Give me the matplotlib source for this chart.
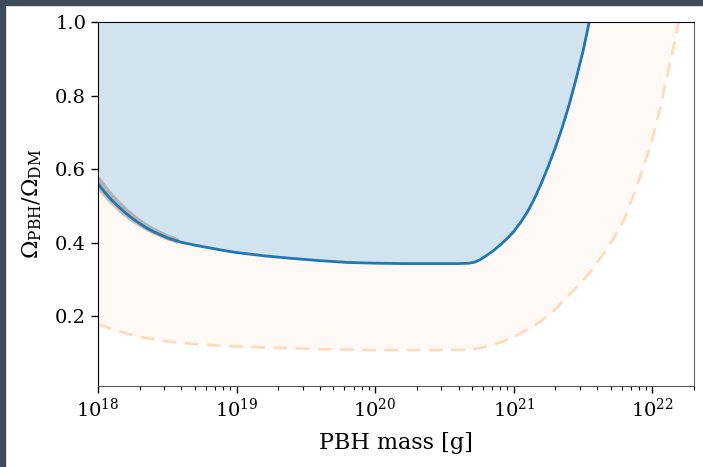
import numpy as np
import matplotlib
matplotlib.use("Agg")
import matplotlib.pyplot as plt
from matplotlib.patches import Rectangle

plt.rcParams['font.family'] = ['DejaVu Serif']
plt.rcParams['mathtext.fontset'] = 'dejavuserif'

# log10 of PBH mass [g] and constraint values
logm_blue = [18.0, 18.05, 18.1, 18.15, 18.2, 18.25, 18.3, 18.35, 18.4, 18.5, 18.6,
             18.7, 18.8, 18.9, 19.0, 19.2, 19.4, 19.6, 19.8, 20.0, 20.2, 20.4,
             20.6, 20.68, 20.72, 20.76, 20.80, 20.85, 20.90, 20.95, 21.00, 21.05,
             21.10, 21.15, 21.20, 21.25, 21.30, 21.35, 21.40, 21.45, 21.50, 21.545]
blue = [0.56, 0.536, 0.515, 0.497, 0.48, 0.465, 0.452, 0.44, 0.43, 0.413, 0.401,
        0.393, 0.386, 0.379, 0.373, 0.364, 0.357, 0.351, 0.346, 0.344, 0.343, 0.343,
        0.343, 0.344, 0.347, 0.354, 0.364, 0.377, 0.393, 0.41, 0.43, 0.455,
        0.484, 0.52, 0.562, 0.608, 0.658, 0.713, 0.775, 0.845, 0.92, 1.0]

logm_grey = [18.0, 18.05, 18.1, 18.15, 18.2, 18.25, 18.3, 18.35, 18.4, 18.5, 18.58]
grey = [0.574, 0.548, 0.525, 0.505, 0.487, 0.471, 0.457, 0.444, 0.433, 0.415, 0.404]
tan = [0.552, 0.529, 0.509, 0.491, 0.475, 0.461, 0.449, 0.438, 0.428, 0.412, 0.403]

logm_dash = [18.0, 18.1, 18.22, 18.35, 18.46, 18.6, 18.7, 18.9, 19.18, 19.5, 19.9,
             20.3, 20.6, 20.66, 20.72, 20.78, 20.84, 20.9, 20.96, 21.05, 21.15,
             21.26, 21.33, 21.4, 21.5, 21.57, 21.643, 21.72, 21.8, 21.884, 21.98,
             22.02, 22.06, 22.1, 22.15, 22.19]
dash = [0.178, 0.165, 0.151, 0.14, 0.133, 0.127, 0.124, 0.119, 0.115, 0.111, 0.108,
        0.108, 0.108, 0.1085, 0.111, 0.115, 0.121, 0.128, 0.137, 0.153, 0.174,
        0.204, 0.23, 0.258, 0.296, 0.329, 0.367, 0.41, 0.465, 0.548, 0.655,
        0.71, 0.77, 0.84, 0.925, 1.0]

m_blue = 10 ** np.array(logm_blue)
m_grey = 10 ** np.array(logm_grey)
m_dash = 10 ** np.array(logm_dash)

fig = plt.figure(figsize=(7.03, 4.67), dpi=100)
fig.patch.set_facecolor('white')
ax = fig.add_axes([98/703, 1-386/467, (694-98)/703, (386-22)/467])

# peach band from dashed line up
ax.fill_between(m_dash, dash, 1.0, color='C1', alpha=0.04, lw=0)
ax.plot(m_dash, dash, color='C1', alpha=0.25, lw=2, ls=(0, (5, 3)))
# excluded region above blue curve
ax.fill_between(m_blue, blue, 1.0, color='white', lw=0)
ax.fill_between(m_blue, blue, 1.0, color='C0', alpha=0.2, lw=0)
ax.plot(m_grey, grey, color='#a9a9a9', lw=4, alpha=0.8, solid_capstyle='butt')
ax.plot(m_grey, tan, color='#c8b29c', lw=3, alpha=0.8, solid_capstyle='butt')
ax.plot(m_blue, blue, color='C0', lw=2)

ax.set_xscale('log')
ax.set_xlim(1e18, 2e22)
ax.set_ylim(0.01, 1.0)
ax.set_yticks([0.2, 0.4, 0.6, 0.8, 1.0])
ax.set_yticklabels(['0.2', '0.4', '0.6', '0.8', '1.0'])
ax.tick_params(axis='both', which='major', labelsize=14, length=5, width=1)
ax.tick_params(axis='x', which='minor', length=3, width=0.8)
ax.spines['right'].set_color('#666666')
ax.spines['bottom'].set_color('#555555')

ax.set_xlabel('PBH mass [g]', fontsize=16, labelpad=8)
ax.set_ylabel(r'$\Omega_{\rm PBH}/\Omega_{\rm DM}$', fontsize=16, labelpad=8)

# dark frame edges of the screenshot
fig.patches.append(Rectangle((0, 0), 5/703, 1, transform=fig.transFigure,
                             color='#3e4b59', zorder=10))
fig.patches.append(Rectangle((0, 1-5/467), 1, 5/467, transform=fig.transFigure,
                             color='#3e4b59', zorder=10))

fig.savefig('out.png', dpi=100)
